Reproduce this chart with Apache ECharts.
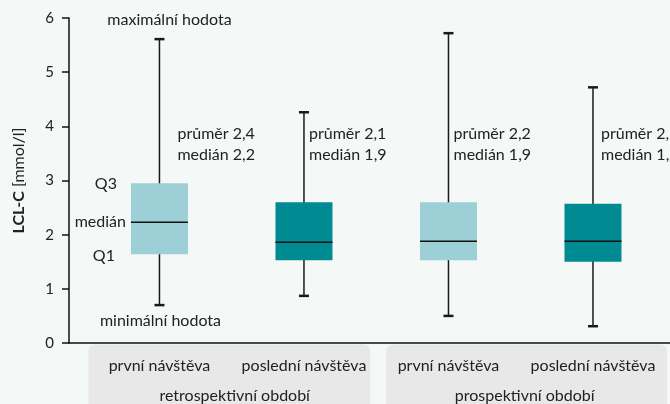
<!DOCTYPE html>
<html><head><meta charset="utf-8">
<script src="https://cdn.jsdelivr.net/npm/echarts@6/dist/echarts.min.js"></script>
<style>html,body{margin:0;padding:0;background:#f4f8f7}#c{width:670px;height:404px}</style>
</head><body><div id="c"></div>
<script>
const categories = ['první návštěva', 'poslední návštěva', 'první návštěva', 'poslední návštěva'];
const groups = ['retrospektivní období', 'prospektivní období'];
const minValues = [0.70, 0.87, 0.50, 0.31];
const q1Values = [1.64, 1.53, 1.53, 1.50];
const medianValues = [2.23, 1.86, 1.88, 1.88];
const q3Values = [2.95, 2.60, 2.60, 2.57];
const maxValues = [5.61, 4.26, 5.72, 4.72];
const meanLabels = ['2,4', '2,1', '2,2', '2,1'];
const medianLabels = ['2,2', '1,9', '1,9', '1,9'];
const yTicks = [0, 1, 2, 3, 4, 5, 6];

const boxColors = ['#9dcfd6', '#008b93', '#9dcfd6', '#008b93'];
const FONT = 'Lato, sans-serif';
const FS = 16;
const TXT = '#222';

const data = categories.map((c, i) => [i, minValues[i], q1Values[i], medianValues[i], q3Values[i], maxValues[i]]);

const chart = echarts.init(document.getElementById('c'), null, {renderer: 'canvas'});
chart.setOption({
  animation: false,
  backgroundColor: '#f4f8f7',
  textStyle: {fontFamily: FONT},
  grid: {left: 69, right: 0, top: 18, bottom: 61, containLabel: false},
  xAxis: {
    type: 'value', min: -0.626, max: 3.533,
    axisLine: {show: true, onZero: false, lineStyle: {color: '#111', width: 1.5}},
    axisTick: {show: false}, axisLabel: {show: false}, splitLine: {show: false}
  },
  yAxis: {
    type: 'value', min: yTicks[0], max: yTicks[yTicks.length - 1], interval: 1,
    name: '{b|LCL-C} [mmol/l]', nameLocation: 'middle', nameGap: 42, nameRotate: 90,
    nameTextStyle: {fontSize: FS, color: TXT, fontFamily: FONT,
      rich: {b: {fontWeight: 'bold', fontSize: FS, color: TXT, fontFamily: FONT}}},
    axisLine: {show: true, onZero: false, lineStyle: {color: '#111', width: 1.5}},
    axisTick: {show: true, length: 7, lineStyle: {color: '#111', width: 1.5}},
    axisLabel: {fontSize: 15, color: TXT, margin: 15, fontFamily: FONT},
    splitLine: {show: false}
  },
  series: [{
    type: 'custom',
    data: data,
    encode: {x: 0, y: [1, 2, 3, 4, 5]},
    renderItem: function (params, api) {
      const i = api.value(0);
      const pMin = api.coord([i, api.value(1)]);
      const pQ1 = api.coord([i, api.value(2)]);
      const pMed = api.coord([i, api.value(3)]);
      const pQ3 = api.coord([i, api.value(4)]);
      const pMax = api.coord([i, api.value(5)]);
      const x = pMin[0];
      const hw = 28.5, cw = 5;
      const stroke = '#1a1a1a';
      return {type: 'group', children: [
        {type: 'line', shape: {x1: x, y1: pMax[1], x2: x, y2: pMin[1]}, style: {stroke: stroke, lineWidth: 1.5}},
        {type: 'line', shape: {x1: x - cw, y1: pMax[1], x2: x + cw, y2: pMax[1]}, style: {stroke: stroke, lineWidth: 2.5}},
        {type: 'line', shape: {x1: x - cw, y1: pMin[1], x2: x + cw, y2: pMin[1]}, style: {stroke: stroke, lineWidth: 2.5}},
        {type: 'rect', shape: {x: x - hw, y: pQ3[1], width: 2 * hw, height: pQ1[1] - pQ3[1]}, style: {fill: boxColors[i]}},
        {type: 'line', shape: {x1: x - hw, y1: pMed[1], x2: x + hw, y2: pMed[1]}, style: {stroke: '#111', lineWidth: 1.5}}
      ]};
    }
  }]
});

const px = i => chart.convertToPixel({xAxisIndex: 0}, i);
const py = v => chart.convertToPixel({yAxisIndex: 0}, v);
const centers = categories.map((c, i) => px(i));
const g = [];
const txt = (x, y, text, align) => ({
  type: 'text', x: x, y: y,
  style: {text: text, fill: TXT, font: FS + 'px ' + FONT, textAlign: align || 'center', textVerticalAlign: 'middle'}
});
const mid = (centers[1] + centers[2]) / 2;
const rectTop = py(0) + 1.5;
g.push({type: 'rect', shape: {x: centers[0] - 71, y: rectTop, width: (mid - 6) - (centers[0] - 71), height: 80, r: 7}, style: {fill: '#e8e8e8'}});
g.push({type: 'rect', shape: {x: mid + 10, y: rectTop, width: (centers[3] + 74) - (mid + 10), height: 80, r: 7}, style: {fill: '#e8e8e8'}});
categories.forEach((c, i) => g.push(txt(centers[i], rectTop + 21, c)));
g.push(txt((centers[0] + centers[1]) / 2 + 3, rectTop + 51, groups[0]));
g.push(txt((centers[2] + centers[3]) / 2 + 4, rectTop + 51, groups[1]));
const boxLeft = centers[0] - 28.5;
g.push(txt(centers[0] + 10, py(6) + 2, 'maximální hodota'));
g.push(txt(centers[0] + 1, py(minValues[0]) + 16, 'minimální hodota'));
g.push(txt(boxLeft - 14, py(q3Values[0]) + 1, 'Q3', 'right'));
g.push(txt(boxLeft - 5, py(medianValues[0]), 'medián', 'right'));
g.push(txt(boxLeft - 16, py(q1Values[0]) + 2, 'Q1', 'right'));
const labelOffsets = [18, 5, 5, 8];
categories.forEach((c, i) => {
  g.push(txt(centers[i] + labelOffsets[i], py(3.86), 'průměr ' + meanLabels[i], 'left'));
  g.push(txt(centers[i] + labelOffsets[i], py(3.86) + 21, 'medián ' + medianLabels[i], 'left'));
});
chart.setOption({graphic: g});
</script></body></html>
